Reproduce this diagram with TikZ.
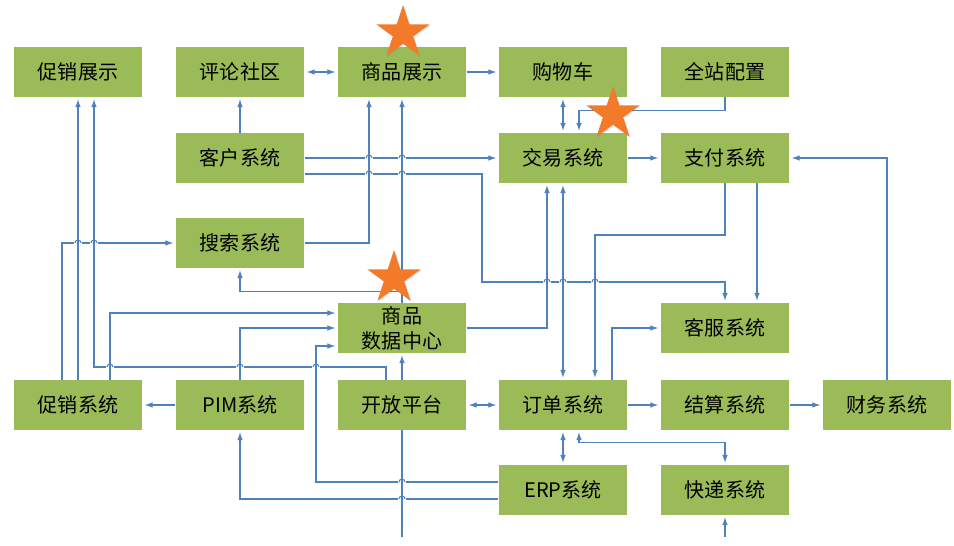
\documentclass[tikz,border=0pt]{standalone}
\usepackage{fontspec}
\newfontfamily\cjk{Noto Sans CJK SC}
\usetikzlibrary{arrows.meta,calc,shapes.geometric,shadows}
\definecolor{boxgreen}{RGB}{155,187,89}
\definecolor{linkblue}{RGB}{79,129,189}
\definecolor{starorange}{RGB}{242,122,40}

\begin{document}
\begin{tikzpicture}[x=0.02cm, y=-0.02cm,
  font=\cjk\fontsize{11.4}{14.2}\selectfont,
  sys/.style={fill=boxgreen, minimum width=2.58cm, minimum height=1cm, inner sep=1pt, align=center},
  ln/.style={draw=linkblue, line width=0.6pt},
  arr/.style={ln, -{Latex[length=1.6mm, width=1.1mm]}, shorten >=1pt},
  dbl/.style={ln, {Latex[length=1.6mm, width=1.1mm]}-{Latex[length=1.6mm, width=1.1mm]}, shorten >=1pt, shorten <=1pt},
  starmark/.style={star, star points=5, star point ratio=2.618, minimum size=1.12cm, inner sep=0pt,
    fill=starorange, drop shadow={opacity=0.25, shadow xshift=0.6pt, shadow yshift=-0.6pt}}]
\useasboundingbox (0,0) rectangle (954,546);
% top row
\node[sys] (cxzs) at (78,72) {促销展示};
\node[sys] (plsq) at (240,72) {评论社区};
\node[sys] (spzs) at (402,72) {商品展示};
\node[sys] (gwc) at (563,72) {购物车};
\node[sys] (qzpz) at (725,72) {全站配置};
% middle rows
\node[sys] (khxt) at (240,158) {客户系统};
\node[sys] (jyxt) at (563,158) {交易系统};
\node[sys] (zfxt) at (725,158) {支付系统};
\node[sys] (ssxt) at (240,243) {搜索系统};
\node[sys] (sjzx) at (402,328) {商品\\数据中心};
\node[sys] (kfxt) at (725,328) {客服系统};
% bottom rows
\node[sys] (cxxt) at (78,405) {促销系统};
\node[sys] (pim) at (240,405) {PIM系统};
\node[sys] (kfpt) at (402,405) {开放平台};
\node[sys] (ddxt) at (563,405) {订单系统};
\node[sys] (jsxt) at (725,405) {结算系统};
\node[sys] (cwxt) at (887,405) {财务系统};
\node[sys] (erp) at (563,490) {ERP系统};
\node[sys] (kdxt) at (725,490) {快递系统};
\coordinate (kfptin) at (402,537);
\coordinate (kdxtin) at (725,537);
% links of the top part
\draw[dbl] (plsq) -- (spzs);
\draw[arr] (spzs) -- (gwc);
\draw[arr] (khxt) -- (plsq);
\draw[arr] (khxt) -- (jyxt);
\draw[arr] ($(khxt.east)+(0,16)$) -| (482,282) -| (kfxt.north);
\draw[arr] (ssxt.east) -| ($(spzs.south)+(-33,0)$);
\draw[arr] (sjzx.north) -- (spzs.south);
\draw[arr] (sjzx.north) |- ($(ssxt.south)+(0,23)$) -- (ssxt.south);
\draw[dbl] (gwc) -- (jyxt);
\draw[arr] (qzpz.south) |- ($(jyxt.north)+(16,-22)$) -- ($(jyxt.north)+(16,0)$);
\draw[arr] (jyxt) -- (zfxt);
\draw[arr] (cwxt.north) |- (zfxt.east);
\draw[arr] ($(zfxt.south)+(32,0)$) -- ($(kfxt.north)+(32,0)$);
\draw[arr] (zfxt.south) |- (595,235) -- ($(ddxt.north)+(32,0)$);
\draw[dbl] (jyxt) -- (ddxt);
\draw[arr] (sjzx.east) -| ($(jyxt.south)+(-16,0)$);
% promotion and product data
\draw[arr] (cxxt) -- (cxzs);
\draw[arr] ($(cxxt.north)+(-16,0)$) |- (ssxt.west);
\draw[arr] ($(kfpt.north)+(-16,0)$) |- (94,367) -- ($(cxzs.south)+(16,0)$);
\draw[arr] ($(cxxt.north)+(32,0)$) |- ($(sjzx.west)+(0,-15)$);
\draw[arr] (pim) |- (sjzx.west);
\draw[arr] ($(erp.west)+(0,-8)$) -| (316,346) -- ($(sjzx.west)+(0,18)$);
\draw[arr] ($(erp.west)+(0,9)$) -| (pim.south);
\draw[arr] (pim) -- (cxxt);
\draw[arr] (kfpt) -- (sjzx);
\draw[ln] (kfptin) -- (kfpt.south);
% orders
\draw[dbl] (kfpt) -- (ddxt);
\draw[arr] (ddxt) -- (jsxt);
\draw[arr] (jsxt) -- (cwxt);
\draw[dbl] (ddxt) -- (erp);
\draw[dbl] ($(ddxt.south)+(16,0)$) |- ($(kdxt.north)+(0,-22)$) -- (kdxt.north);
\draw[arr] (kdxtin) -- (kdxt.south);
\draw[arr] ($(ddxt.north)+(49,0)$) |- (kfxt.west);
% line jumps where links cross
\foreach \x/\y in {369/158, 402/158, 369/174, 402/174, 78/243, 94/243,
    547/282, 563/282, 595/282, 110/367, 240/367, 316/367, 402/482, 402/499} {
  \fill[white] (\x-3.6,\y-1.2) rectangle (\x+3.6,\y+1.2);
  \draw[ln] (\x,\y-5) -- (\x,\y+5);
  \draw[ln] (\x-3,\y) arc[start angle=180, end angle=360, radius=3];
}
% stars
\node[starmark] (star1) at (403,33) {};
\node[starmark] (star2) at (613,114) {};
\node[starmark] (star3) at (394,278) {};
\end{tikzpicture}
\end{document}
